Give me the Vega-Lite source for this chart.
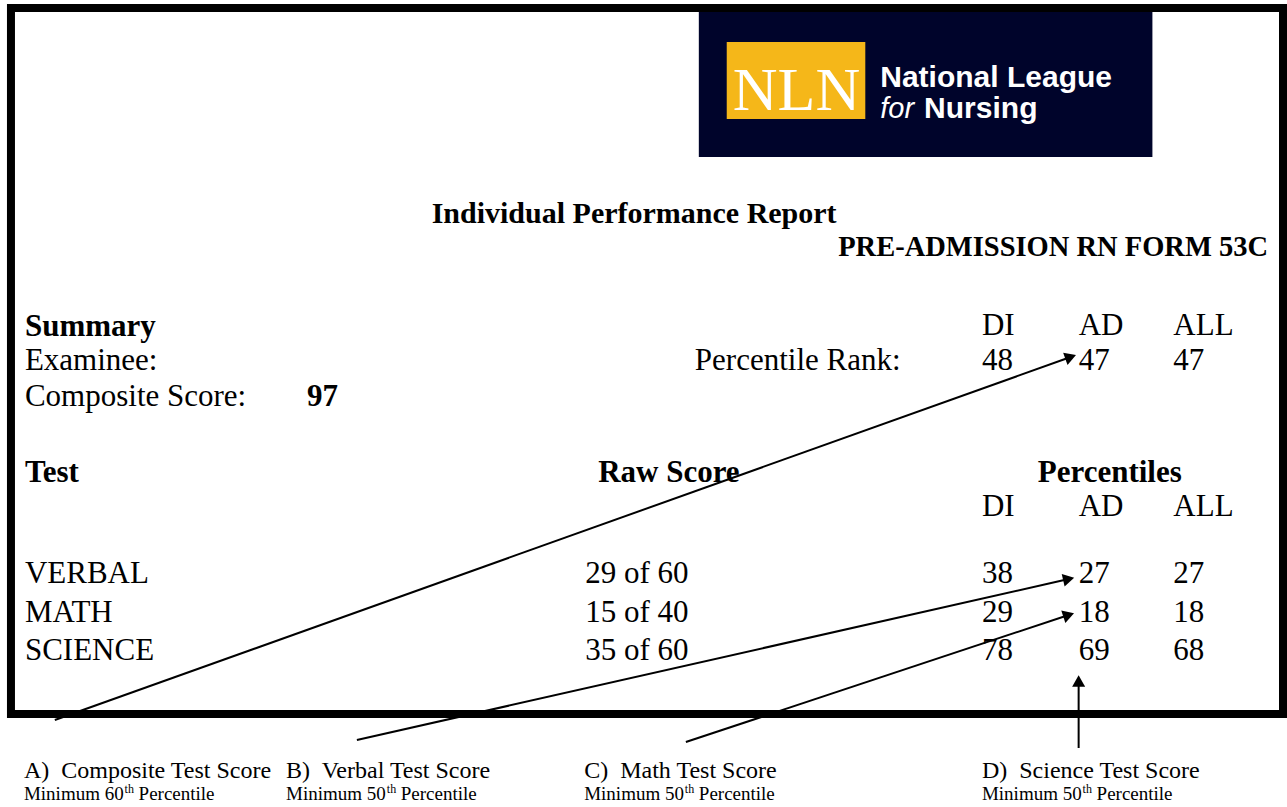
{
  "$schema": "https://vega.github.io/schema/vega-lite/v6.json",
  "width": 1287,
  "height": 807,
  "autosize": {"type": "fit", "contains": "padding"},
  "padding": 0,
  "background": "white",
  "config": {"view": {"stroke": null}},
  "datasets": {
    "logoBox": [{"x": 701, "y": 12, "x2": 1156, "y2": 157}],
    "logoGold": [{"x": 729, "y": 42, "x2": 868, "y2": 119}],
    "frame": [{"x": 11, "y": 8, "x2": 1287, "y2": 714}],
    "logoSerif": [{"label": "NLN", "x": 799, "y": 110}],
    "logoBold": [{"label": "National League", "x": 883, "y": 87}, {"label": "Nursing", "x": 927, "y": 118}],
    "logoItalic": [{"label": "for", "x": 883, "y": 118}],
    "title": [{"label": "Individual Performance Report", "x": 433, "y": 223}],
    "form": [{"label": "PRE-ADMISSION RN FORM 53C", "x": 1272, "y": 256}],
    "bold": [
      {"label": "Summary", "x": 25, "y": 336},
      {"label": "97", "x": 308, "y": 406},
      {"label": "Test", "x": 25, "y": 482},
      {"label": "Raw Score", "x": 600, "y": 482},
      {"label": "Percentiles", "x": 1041, "y": 482}
    ],
    "body": [
      {"label": "DI", "x": 985, "y": 335},
      {"label": "AD", "x": 1082, "y": 335},
      {"label": "ALL", "x": 1177, "y": 335},
      {"label": "Examinee:", "x": 25, "y": 370},
      {"label": "Percentile Rank:", "x": 697, "y": 370},
      {"label": "48", "x": 985, "y": 370},
      {"label": "47", "x": 1082, "y": 370},
      {"label": "47", "x": 1177, "y": 370},
      {"label": "Composite Score:", "x": 25, "y": 406},
      {"label": "DI", "x": 985, "y": 516},
      {"label": "AD", "x": 1082, "y": 516},
      {"label": "ALL", "x": 1177, "y": 516},
      {"label": "VERBAL", "x": 25, "y": 583},
      {"label": "29 of 60", "x": 587, "y": 583},
      {"label": "38", "x": 985, "y": 583},
      {"label": "27", "x": 1082, "y": 583},
      {"label": "27", "x": 1177, "y": 583},
      {"label": "MATH", "x": 25, "y": 622},
      {"label": "15 of 40", "x": 587, "y": 622},
      {"label": "29", "x": 985, "y": 622},
      {"label": "18", "x": 1082, "y": 622},
      {"label": "18", "x": 1177, "y": 622},
      {"label": "SCIENCE", "x": 25, "y": 660},
      {"label": "35 of 60", "x": 587, "y": 660},
      {"label": "78", "x": 985, "y": 660},
      {"label": "69", "x": 1082, "y": 660},
      {"label": "68", "x": 1177, "y": 660}
    ],
    "caption": [
      {"label": "A)\u00a0 Composite Test Score", "x": 24, "y": 778},
      {"label": "B)\u00a0 Verbal Test Score", "x": 287, "y": 778},
      {"label": "C)\u00a0 Math Test Score", "x": 586, "y": 778},
      {"label": "D)\u00a0 Science Test Score", "x": 985, "y": 778}
    ],
    "minimum": [
      {"label": "Minimum 60", "x": 24, "y": 800},
      {"label": "Percentile", "x": 139, "y": 800},
      {"label": "Minimum 50", "x": 287, "y": 800},
      {"label": "Percentile", "x": 402, "y": 800},
      {"label": "Minimum 50", "x": 586, "y": 800},
      {"label": "Percentile", "x": 701, "y": 800},
      {"label": "Minimum 50", "x": 985, "y": 800},
      {"label": "Percentile", "x": 1100, "y": 800}
    ],
    "sup": [
      {"label": "th", "x": 125, "y": 793},
      {"label": "th", "x": 388, "y": 793},
      {"label": "th", "x": 687, "y": 793},
      {"label": "th", "x": 1086, "y": 793}
    ],
    "lines": [
      {"arrow": "A", "x": 55, "y": 720, "x2": 1074, "y2": 357},
      {"arrow": "B", "x": 358, "y": 740, "x2": 1072, "y2": 579},
      {"arrow": "C", "x": 688, "y": 742, "x2": 1072, "y2": 615},
      {"arrow": "D", "x": 1082, "y": 748, "x2": 1082, "y2": 681}
    ],
    "heads": [
      {"arrow": "A", "x": 1074, "y": 357},
      {"arrow": "B", "x": 1072, "y": 579},
      {"arrow": "C", "x": 1072, "y": 615},
      {"arrow": "D", "x": 1082, "y": 681}
    ]
  },
  "encoding": {
    "x": {"field": "x", "type": "quantitative", "scale": {"domain": [0, 1287], "nice": false, "zero": false}, "axis": null},
    "y": {"field": "y", "type": "quantitative", "scale": {"domain": [0, 807], "nice": false, "zero": false, "reverse": true}, "axis": null}
  },
  "layer": [
    {"data": {"name": "logoBox"}, "mark": {"type": "rect", "fill": "#00042b"}, "encoding": {"x2": {"field": "x2"}, "y2": {"field": "y2"}}},
    {"data": {"name": "logoGold"}, "mark": {"type": "rect", "fill": "#f5b719"}, "encoding": {"x2": {"field": "x2"}, "y2": {"field": "y2"}}},
    {"data": {"name": "frame"}, "mark": {"type": "rect", "filled": false, "stroke": "black", "strokeWidth": 8, "strokeJoin": "miter"}, "encoding": {"x2": {"field": "x2"}, "y2": {"field": "y2"}}},
    {"data": {"name": "logoSerif"}, "mark": {"type": "text", "font": "Liberation Serif", "fontSize": 62, "align": "center", "baseline": "alphabetic", "color": "white"}, "encoding": {"text": {"field": "label"}}},
    {"data": {"name": "logoBold"}, "mark": {"type": "text", "font": "Liberation Sans", "fontSize": 30, "fontWeight": "bold", "align": "left", "baseline": "alphabetic", "color": "white"}, "encoding": {"text": {"field": "label"}}},
    {"data": {"name": "logoItalic"}, "mark": {"type": "text", "font": "Liberation Sans", "fontSize": 29, "fontStyle": "italic", "align": "left", "baseline": "alphabetic", "color": "white"}, "encoding": {"text": {"field": "label"}}},
    {"data": {"name": "title"}, "mark": {"type": "text", "font": "Liberation Serif", "fontSize": 30, "fontWeight": "bold", "align": "left", "baseline": "alphabetic", "color": "black"}, "encoding": {"text": {"field": "label"}}},
    {"data": {"name": "form"}, "mark": {"type": "text", "font": "Liberation Serif", "fontSize": 28.5, "fontWeight": "bold", "align": "right", "baseline": "alphabetic", "color": "black"}, "encoding": {"text": {"field": "label"}}},
    {"data": {"name": "bold"}, "mark": {"type": "text", "font": "Liberation Serif", "fontSize": 31, "fontWeight": "bold", "align": "left", "baseline": "alphabetic", "color": "black"}, "encoding": {"text": {"field": "label"}}},
    {"data": {"name": "body"}, "mark": {"type": "text", "font": "Liberation Serif", "fontSize": 31, "align": "left", "baseline": "alphabetic", "color": "black"}, "encoding": {"text": {"field": "label"}}},
    {"data": {"name": "caption"}, "mark": {"type": "text", "font": "Liberation Serif", "fontSize": 24, "align": "left", "baseline": "alphabetic", "color": "black"}, "encoding": {"text": {"field": "label"}}},
    {"data": {"name": "minimum"}, "mark": {"type": "text", "font": "Liberation Serif", "fontSize": 19, "align": "left", "baseline": "alphabetic", "color": "black"}, "encoding": {"text": {"field": "label"}}},
    {"data": {"name": "sup"}, "mark": {"type": "text", "font": "Liberation Serif", "fontSize": 12, "align": "left", "baseline": "alphabetic", "color": "black"}, "encoding": {"text": {"field": "label"}}},
    {"data": {"name": "lines"}, "mark": {"type": "rule", "color": "black", "strokeWidth": 2}, "encoding": {"x2": {"field": "x2"}, "y2": {"field": "y2"}}},
    {"data": {"name": "heads"}, "transform": [{"filter": "datum.arrow === 'A'"}], "mark": {"type": "point", "shape": "triangle-up", "filled": true, "color": "black", "size": 170, "opacity": 1, "angle": 70.4}},
    {"data": {"name": "heads"}, "transform": [{"filter": "datum.arrow === 'B'"}], "mark": {"type": "point", "shape": "triangle-up", "filled": true, "color": "black", "size": 170, "opacity": 1, "angle": 77.3}},
    {"data": {"name": "heads"}, "transform": [{"filter": "datum.arrow === 'C'"}], "mark": {"type": "point", "shape": "triangle-up", "filled": true, "color": "black", "size": 170, "opacity": 1, "angle": 71.7}},
    {"data": {"name": "heads"}, "transform": [{"filter": "datum.arrow === 'D'"}], "mark": {"type": "point", "shape": "triangle-up", "filled": true, "color": "black", "size": 170, "opacity": 1, "angle": 0}}
  ]
}
